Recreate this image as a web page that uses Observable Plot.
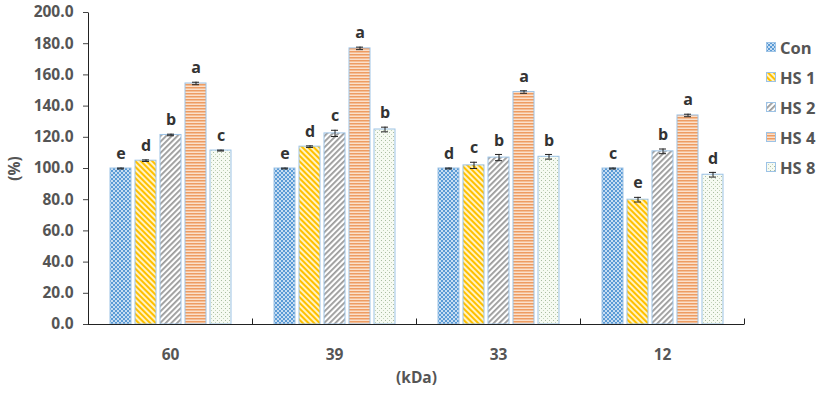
<!DOCTYPE html>
<html><head><meta charset="utf-8">
<script src="https://cdn.jsdelivr.net/npm/d3@7"></script>
<script src="https://cdn.jsdelivr.net/npm/@observablehq/plot@0.6"></script>
<style>
body{margin:0;background:#fff;}
#wrap{position:relative;width:827px;height:393px;font-family:"Open Sans",sans-serif;}
#legend{position:absolute;left:766px;top:32px;}
.item{display:flex;align-items:center;height:30px;font-weight:700;font-size:16.5px;color:#555;}
.sw{width:10px;height:10px;margin-right:4px;display:block;}
#defs{position:absolute;width:0;height:0;overflow:hidden;}
</style></head><body>
<svg id="defs" width="0" height="0"><defs>
<pattern id="pCon" patternUnits="userSpaceOnUse" width="4" height="4">
<rect width="4" height="4" fill="#c9def2"/><rect width="2" height="2" fill="#5b9bd5"/><rect x="2" y="2" width="2" height="2" fill="#5b9bd5"/>
</pattern>
<pattern id="pHS1" patternUnits="userSpaceOnUse" width="4" height="4" patternTransform="rotate(-45)">
<rect width="4" height="4" fill="#fff3c4"/><rect width="2" height="4" fill="#ffc000"/>
</pattern>
<pattern id="pHS2" patternUnits="userSpaceOnUse" width="4" height="4" patternTransform="rotate(45)">
<rect width="4" height="4" fill="#ffffff"/><rect width="1.8" height="4" fill="#9a9a9a"/>
</pattern>
<pattern id="pHS4" patternUnits="userSpaceOnUse" width="3" height="3">
<rect width="3" height="3" fill="#fbe0cb"/><rect width="3" height="1.5" fill="#ee9c62"/>
</pattern>
<pattern id="pHS8" patternUnits="userSpaceOnUse" width="4" height="4">
<rect width="4" height="4" fill="#f6faf2"/><rect width="1" height="1" fill="#a9bca0"/><rect x="2" y="2" width="1" height="1" fill="#c2d3b8"/>
</pattern>
</defs></svg>
<div id="wrap"><div id="legend"></div></div>
<script>
const groups = ["60", "39", "33", "12"];
const series = ["Con", "HS 1", "HS 2", "HS 4", "HS 8"];
const patterns = ["url(#pCon)", "url(#pHS1)", "url(#pHS2)", "url(#pHS4)", "url(#pHS8)"];
// values per group, in series order
const values60 = [100, 105, 121.5, 154.5, 111.5];
const values39 = [100, 114, 122.5, 177, 125];
const values33 = [100, 102, 107, 149, 107.5];
const values12 = [100, 80, 111, 134, 96];
const errors60 = [0.3, 0.5, 0.5, 0.8, 0.3];
const errors39 = [0.3, 0.5, 2, 0.8, 1.5];
const errors33 = [0.3, 2, 2, 0.8, 1.5];
const errors12 = [0.3, 1.5, 1.5, 0.8, 1.5];
const letters60 = ["e", "d", "b", "a", "c"];
const letters39 = ["e", "d", "c", "a", "b"];
const letters33 = ["d", "c", "b", "a", "b"];
const letters12 = ["c", "e", "b", "a", "d"];
const yTicks = [0, 20, 40, 60, 80, 100, 120, 140, 160, 180, 200];

const vals = [values60, values39, values33, values12];
const errs = [errors60, errors39, errors33, errors12];
const lets = [letters60, letters39, letters33, letters12];
const data = [];
groups.forEach((g, gi) => series.forEach((s, si) => data.push({g, s, v: vals[gi][si], e: errs[gi][si], l: lets[gi][si]})));

const chart = Plot.plot({
  width: 827, height: 393,
  marginLeft: 87, marginRight: 82, marginTop: 12, marginBottom: 69,
  style: {fontFamily: "'Open Sans', sans-serif", fontSize: "15.5px", fontWeight: 700, color: "#555", background: "white", overflow: "visible"},
  fx: {domain: groups, padding: 0, label: "(kDa)"},
  x: {domain: series, paddingInner: 0.18, paddingOuter: 0.8, axis: null},
  y: {domain: [0, 200]},
  color: {domain: series, range: patterns},
  marks: [
    Plot.axisY({ticks: yTicks, tickFormat: d => d.toFixed(1), tickSize: 5, tickPadding: 10, label: "(%)", labelAnchor: "center", labelArrow: "none", labelOffset: 80, stroke: "#444"}),
    Plot.axisFx({anchor: "bottom", tickSize: 0, tickPadding: 24, label: "(kDa)", labelAnchor: "center", labelOffset: 58, labelArrow: "none"}),
    Plot.barY(data, {fx: "g", x: "s", y: "v", fill: "s", stroke: "#9dc3e6", strokeWidth: 1}),
    Plot.ruleX(data, {fx: "g", x: "s", y1: d => d.v - d.e, y2: d => d.v + d.e, stroke: "#222"}),
    Plot.tickY(data, {fx: "g", x: "s", y: d => d.v + d.e, insetLeft: 7, insetRight: 7, stroke: "#222"}),
    Plot.tickY(data, {fx: "g", x: "s", y: d => d.v - d.e, insetLeft: 7, insetRight: 7, stroke: "#222"}),
    Plot.text(data, {fx: "g", x: "s", y: d => d.v + d.e, text: "l", dy: -14, fontSize: 16, fontWeight: 700, fill: "#333"}),
    Plot.ruleY([0], {stroke: "#222"})
  ]
});

// y axis line and group-boundary ticks from the scales
const fx = chart.scale("fx"), y = chart.scale("y");
const svg = d3.select(chart);
const x0 = fx.apply(groups[0]);
const y0 = y.apply(0), y1 = y.apply(200);
const g = svg.append("g").attr("stroke", "#222").attr("transform", "translate(0.5,0.5)");
g.append("line").attr("x1", x0).attr("x2", x0).attr("y1", y1).attr("y2", y0);
const bounds = groups.map(d => fx.apply(d)).concat([fx.apply(groups[groups.length - 1]) + fx.bandwidth]);
bounds.forEach(bx => g.append("line").attr("x1", bx).attr("x2", bx).attr("y1", y0 - 6).attr("y2", y0));

document.getElementById("wrap").appendChild(chart);

const legend = d3.select("#legend");
series.forEach((s, i) => {
  const it = legend.append("div").attr("class", "item");
  const sw = it.append("svg").attr("class", "sw").attr("width", 10).attr("height", 10);
  sw.append("rect").attr("x", 0.5).attr("y", 0.5).attr("width", 9).attr("height", 9).attr("fill", patterns[i]).attr("stroke", "#9dc3e6");
  it.append("span").text(s);
});
</script>
</body></html>
